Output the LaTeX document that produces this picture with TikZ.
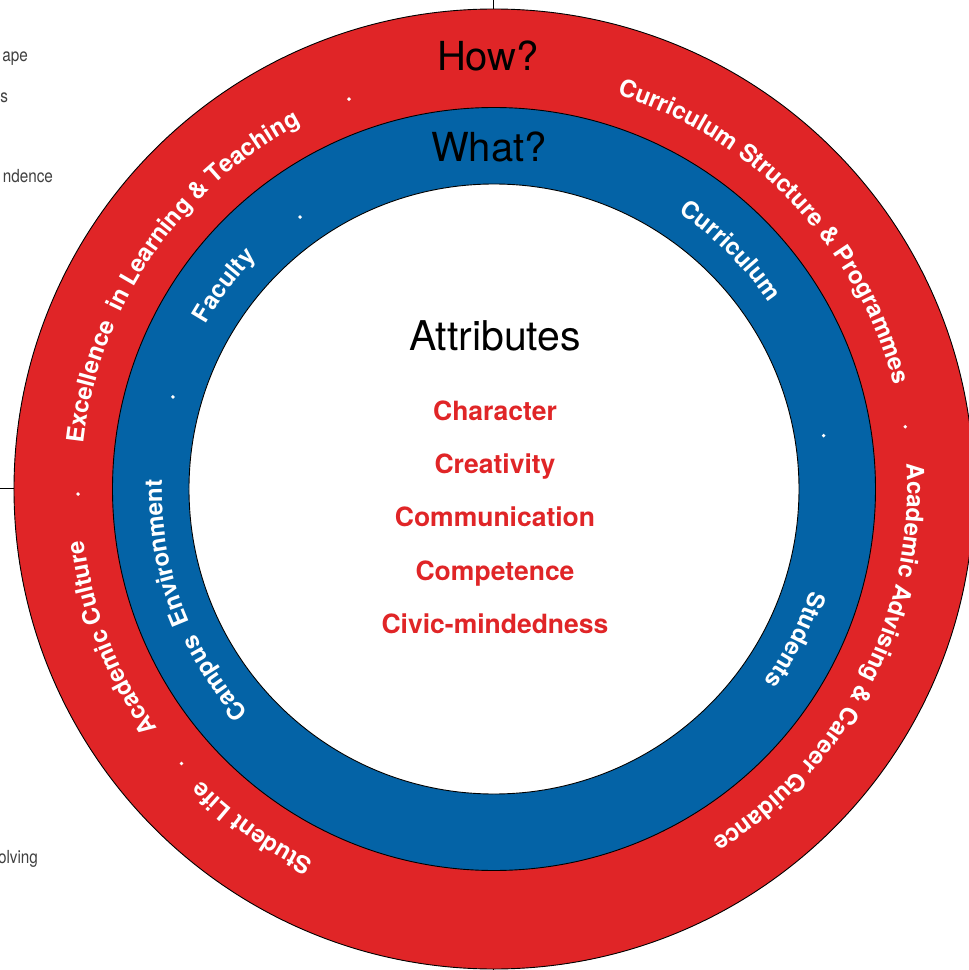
\documentclass[tikz,border=0pt]{standalone}
\usepackage{fontspec}
\setmainfont{TeX Gyre Heros}
\newfontfamily\marginfont[FakeStretch=0.85]{TeX Gyre Heros}
\usepackage{tikz}
\usetikzlibrary{positioning, decorations.text}
\definecolor{ringred}{RGB}{224,37,39}
\definecolor{ringblue}{RGB}{4,99,166}
\newcommand{\ringfont}{\bfseries\fontsize{24}{24}\selectfont}

\begin{document}
\begin{tikzpicture}[
    x=1pt, y=1pt,
    every node/.style={
        inner sep=0pt,
        outer sep=0pt
    },
    ring/.style={circle, draw=black, line width=0.9pt},
    question/.style={font=\fontsize{40}{40}\selectfont, anchor=base},
    attribute/.style={font=\bfseries\fontsize{26.5}{26.5}\selectfont, text=ringred, anchor=base},
    sepdot/.style={circle, fill=white, minimum size=3.8pt},
    margintext/.style={font=\marginfont\fontsize{18}{18}\selectfont, text=black!75, anchor=base east},
    ringlabel/.style={decorate, decoration={text along path, text align=center, text color=white}},
    tick/.style={draw, line width=0.6pt}
]
\useasboundingbox (-494,-481) rectangle (475,489);

% ======================
% Rings
% ======================
\node[ring, fill=ringred, minimum size=960pt] (outer) at (0,0) {};
\node[ring, fill=ringblue, minimum size=763pt] (middle) at (0,0) {};
\node[ring, fill=white, minimum size=610pt] (inner) at (0,0) {};

% ======================
% Centre texts
% ======================
\node[question] (how) at (-6,418) {How?};
\node[question] (what) at (-5,327) {What?};
\node[question, font=\fontsize{41}{41}\selectfont] (attributes) at (1,139) {Attributes};

\foreach \name [count=\i] in {Character, Creativity, Communication, Competence, Civic-mindedness}
    \node[attribute] (attr\i) at (1,68.5-53.2*\i+53.2) {\name};

% ======================
% How? ring
% ======================
\path[ringlabel, decoration={text={|\ringfont|Curriculum Structure {\&} Programmes}}]
    (83.6:413pt) arc[start angle=83.6, end angle=3.6, radius=413pt];
\path[ringlabel, decoration={text={|\ringfont|Academic Advising {\&} Career Guidance}}]
    (12.7:413pt) arc[start angle=12.7, end angle=-67.3, radius=413pt];
\path[ringlabel, decoration={text={|\ringfont|Student Life}}]
    (274.5:413pt) arc[start angle=274.5, end angle=194.5, radius=413pt];
\path[ringlabel, decoration={text={|\ringfont|Academic Culture}}]
    (241.3:413pt) arc[start angle=241.3, end angle=161.3, radius=413pt];
\path[ringlabel, decoration={text={|\ringfont|Excellence{\hspace*{6pt}} in Learning {\&} Teaching}}]
    (185.8:413pt) arc[start angle=185.8, end angle=105.8, radius=413pt];

\foreach \ang [count=\i] in {110.4, 8.6, 180.7, 221.3}
    \node[sepdot] (hdot\i) at (\ang:416) {};

% ======================
% What? ring
% ======================
\path[ringlabel, decoration={text={|\ringfont|Curriculum}}]
    (85.2:332pt) arc[start angle=85.2, end angle=5.2, radius=332pt];
\path[ringlabel, decoration={text={|\ringfont|Students}}]
    (13.4:332pt) arc[start angle=13.4, end angle=-66.6, radius=332pt];
\path[ringlabel, decoration={text={|\ringfont|Campus{\hspace*{6pt}} Environment}}]
    (240.3:332pt) arc[start angle=240.3, end angle=160.3, radius=332pt];
\path[ringlabel, decoration={text={|\ringfont|Faculty}}]
    (183:332pt) arc[start angle=183, end angle=103, radius=332pt];

\foreach \ang [count=\i] in {125.5, 9.2, 164}
    \node[sepdot] (wdot\i) at (\ang:334) {};

% ======================
% Cut-off margin
% ======================
\node[margintext] (mape) at (-466,427) {ape};
\node[margintext] (ms) at (-486,386) {s};
\node[margintext] (mndence) at (-441,306) {ndence};
\node[margintext] (molving) at (-456,-374) {olving};

\coordinate (tickW) at (-494,1);
\coordinate (tickN) at (-1,489);
\coordinate (tickS) at (-1,-481);
\draw[tick] (tickW) -- (tickW -| outer.west);
\draw[tick] (tickN) -- (tickN |- outer.north);
\draw[tick] (tickS) -- (tickS |- outer.south);

\end{tikzpicture}
\end{document}
